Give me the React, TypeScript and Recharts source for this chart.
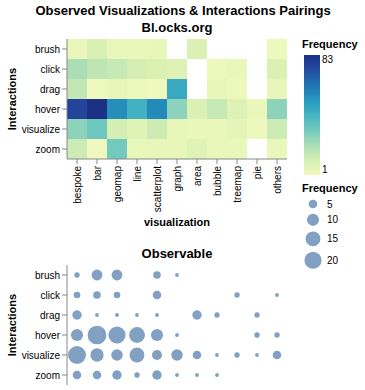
import { Bar, BarChart, Cell, Scatter, ScatterChart, XAxis, YAxis, ZAxis } from "recharts";

const visualizations = ["bespoke", "bar", "geomap", "line", "scatterplot", "graph", "area", "bubble", "treemap", "pie", "others"];
const interactions = ["brush", "click", "drag", "hover", "visualize", "zoom"];

// Bl.ocks.org frequencies, one array per interaction (null = not observed)
const blocksBrush = [3, 10, 3, 3, 4, null, 9, null, null, null, 2];
const blocksClick = [21, 17, 15, 11, 9, 8, null, 2, 3, null, 9];
const blocksDrag = [16, 1, 4, 2, 1, 46, null, 4, 2, null, 4];
const blocksHover = [76, 83, 55, 43, 56, 27, 9, 15, 8, 3, 27];
const blocksVisualize = [27, 33, 11, 7, 13, 4, 3, 3, 5, 2, 13];
const blocksZoom = [13, 1, 32, 3, 4, 4, 7, 3, 3, null, 3];

// Observable frequencies
const obsBrush = [2, 8, 8, null, 4, 1, null, null, null, null, null];
const obsClick = [3, 4, 3, null, 5, null, null, null, 2, null, 1];
const obsDrag = [6, 1, 1, 1, 1, null, 6, 2, null, 2, null];
const obsHover = [10, 24, 20, 17, 10, 1, null, null, null, 2, 2];
const obsVisualize = [22, 12, 9, 15, 7, 9, 5, 1, 2, 1, 5];
const obsZoom = [5, 5, 6, 2, 6, 1, 1, 1, null, null, null];

const sizeLegend = [5, 10, 15, 20];

const blocks = [blocksBrush, blocksClick, blocksDrag, blocksHover, blocksVisualize, blocksZoom];
const observable = [obsBrush, obsClick, obsDrag, obsHover, obsVisualize, obsZoom];

// vega "yellowgreenblue"
const ylgnbu = ["#eff9bd", "#dbf1b4", "#bde5b5", "#94d5b9", "#69c5be", "#45b4c2", "#2c9ec0", "#2182b8", "#2163aa", "#23479c", "#1c3185"];

const allBlocks = blocks.flat().filter((v): v is number => v != null);
const freqMin = Math.min(...allBlocks);
const freqMax = Math.max(...allBlocks);

function hex(c: string) {
  return [1, 3, 5].map((i) => parseInt(c.slice(i, i + 2), 16));
}

function colorFor(v: number | null) {
  if (v == null) return "transparent";
  const t = Math.max(0, Math.min(1, (v - freqMin) / (freqMax - freqMin))) * (ylgnbu.length - 1);
  const i = Math.min(Math.floor(t), ylgnbu.length - 2);
  const f = t - i;
  const a = hex(ylgnbu[i]);
  const b = hex(ylgnbu[i + 1]);
  const rgb = a.map((x, k) => Math.round(x + (b[k] - x) * f));
  return `rgb(${rgb.join(",")})`;
}

// each cell is one unit of a stack, coloured by its frequency
const heatData = visualizations.map((name) => {
  const row: Record<string, string | number> = { name };
  interactions.forEach((it) => (row[it] = 1));
  return row;
});

const bubbleData = observable.flatMap((vals, r) =>
  vals
    .map((v, c) => (v == null ? null : { x: c + 0.5, y: interactions.length - r - 0.5, z: v }))
    .filter((d): d is { x: number; y: number; z: number } => d != null)
);

const rowTicks = interactions.map((_, i) => i + 0.5);
const rowLabel = (v: number) => interactions[interactions.length - 1 - Math.floor(v)];

const SIZE_PER_UNIT = 11.5;
const zMax = 25;
const radius = (v: number) => Math.sqrt((v * SIZE_PER_UNIT) / Math.PI);

const font = "'Liberation Sans', Arial, Helvetica, sans-serif";
const axisGray = "#888";

const XTick = (props: any) => {
  const { x, y, payload } = props;
  return (
    <text x={x} y={y} transform={`rotate(-90, ${x}, ${y})`} textAnchor="end" dominantBaseline="central" fontSize={10} fill="#000">
      {payload.value}
    </text>
  );
};

const boldTitle = (text: string, top: number, left: number, width: number, size: number) => (
  <div
    style={{
      position: "absolute",
      top,
      left,
      width,
      textAlign: "center",
      fontWeight: "bold",
      fontSize: size,
      lineHeight: "16px",
      whiteSpace: "nowrap",
    }}
  >
    {text}
  </div>
);

const axisTitleY = (centerY: number) => (
  <div
    style={{
      position: "absolute",
      left: 12 - 50,
      top: centerY - 7,
      width: 100,
      textAlign: "center",
      fontWeight: "bold",
      fontSize: 11,
      lineHeight: "14px",
      transform: "rotate(-90deg)",
    }}
  >
    Interactions
  </div>
);

export default function App() {
  let legendY = 204;
  const sizeRows = sizeLegend.map((v, i) => {
    if (i > 0) legendY += radius(sizeLegend[i - 1]) + radius(v) + 5.5;
    return { v, y: legendY };
  });

  return (
    <div style={{ position: "absolute", left: 0, top: 0, width: 365, height: 390, fontFamily: font, color: "#000", background: "#fff" }}>
      {boldTitle("Observed Visualizations & Interactions Pairings", 3, 0, 366, 13)}
      {boldTitle("Bl.ocks.org", 20, 67, 220, 13)}

      <div style={{ position: "absolute", left: 0, top: 0 }}>
        <BarChart width={365} height={230} data={heatData} margin={{ top: 39, right: 78, bottom: 11, left: 7 }} barCategoryGap={0} barGap={0}>
          <XAxis
            dataKey="name"
            interval={0}
            height={60}
            tick={<XTick />}
            tickSize={5}
            axisLine={{ stroke: axisGray }}
            tickLine={{ stroke: axisGray }}
          />
          <YAxis
            type="number"
            domain={[0, interactions.length]}
            ticks={rowTicks}
            tickFormatter={rowLabel}
            width={60}
            tickSize={5}
            tick={{ fill: "#000", fontSize: 10 }}
            axisLine={{ stroke: axisGray }}
            tickLine={{ stroke: axisGray }}
          />
          {[...interactions].reverse().map((it) => {
            const vals = blocks[interactions.indexOf(it)];
            return (
              <Bar key={it} dataKey={it} stackId="cells" isAnimationActive={false}>
                {vals.map((v, i) => (
                  <Cell key={i} fill={colorFor(v)} />
                ))}
              </Bar>
            );
          })}
        </BarChart>
      </div>

      <div style={{ position: "absolute", left: 67, top: 215, width: 220, textAlign: "center", fontWeight: "bold", fontSize: 11, lineHeight: "14px" }}>
        visualization
      </div>
      {axisTitleY(99)}

      {boldTitle("Observable", 246, 67, 220, 13)}
      <div style={{ position: "absolute", left: 0, top: 230 }}>
        <ScatterChart width={365} height={160} margin={{ top: 35, right: 78, bottom: 5, left: 7 }}>
          <XAxis type="number" dataKey="x" domain={[0, visualizations.length]} hide />
          <YAxis
            type="number"
            dataKey="y"
            domain={[0, interactions.length]}
            ticks={rowTicks}
            tickFormatter={rowLabel}
            width={60}
            tickSize={5}
            tick={{ fill: "#000", fontSize: 10 }}
            axisLine={{ stroke: axisGray }}
            tickLine={{ stroke: axisGray }}
          />
          <ZAxis type="number" dataKey="z" domain={[0, zMax]} range={[0, zMax * SIZE_PER_UNIT]} />
          <Scatter data={bubbleData} fill="#4c78a8" fillOpacity={0.7} isAnimationActive={false} />
        </ScatterChart>
      </div>
      {axisTitleY(325)}

      <svg width={365} height={390} style={{ position: "absolute", left: 0, top: 0, pointerEvents: "none" }}>
        <defs>
          <linearGradient id="freqGrad" x1="0" y1="1" x2="0" y2="0">
            {ylgnbu.map((c, i) => (
              <stop key={i} offset={i / (ylgnbu.length - 1)} stopColor={c} />
            ))}
          </linearGradient>
        </defs>
        <text x={302} y={48} fontSize={11} fontWeight="bold" fill="#000">Frequency</text>
        <rect x={304} y={55} width={16} height={120} fill="url(#freqGrad)" />
        <text x={322} y={63} fontSize={10} fill="#000">{freqMax}</text>
        <text x={322} y={173} fontSize={10} fill="#000">{freqMin}</text>

        <text x={302} y={192} fontSize={11} fontWeight="bold" fill="#000">Frequency</text>
        {sizeRows.map((s) => (
          <g key={s.v}>
            <circle cx={313} cy={s.y} r={radius(s.v)} fill="#4c78a8" fillOpacity={0.7} />
            <text x={327} y={s.y} dominantBaseline="central" fontSize={10} fill="#000">{s.v}</text>
          </g>
        ))}
      </svg>
    </div>
  );
}
